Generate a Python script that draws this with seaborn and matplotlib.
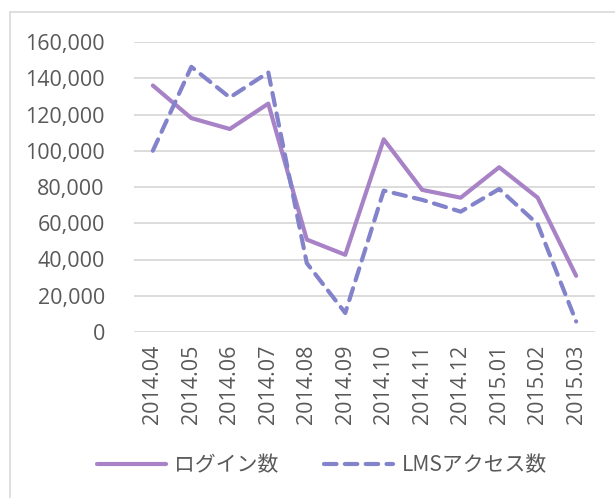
import matplotlib
matplotlib.use("Agg")
import matplotlib.pyplot as plt
import seaborn as sns
import pandas as pd
from matplotlib.patches import Rectangle
from matplotlib.lines import Line2D
from matplotlib.ticker import FuncFormatter

months = ["2014.04", "2014.05", "2014.06", "2014.07", "2014.08", "2014.09",
          "2014.10", "2014.11", "2014.12", "2015.01", "2015.02", "2015.03"]
login = [136000, 118000, 112000, 126000, 51000, 42600, 106300, 78400, 74100, 90900, 74100, 31000]
lms = [100000, 146300, 129400, 143200, 38000, 10500, 78000, 72900, 66400, 78900, 59500, 5800]
series_names = ["ログイン数", "LMSアクセス数"]

df = pd.DataFrame({
    "month": months * 2,
    "x": list(range(len(months))) * 2,
    "value": login + lms,
    "series": [series_names[0]] * len(months) + [series_names[1]] * len(months),
})

sns.set_theme(style="white")
plt.rcParams['font.family'] = ['Open Sans', 'Noto Sans CJK JP', 'DejaVu Sans']

colors = {series_names[0]: "#A882C6", series_names[1]: "#8383CC"}
fig = plt.figure(figsize=(6.15, 4.98), dpi=100)
ax = fig.add_axes([134 / 615, 1 - 332 / 498, (595 - 134) / 615, (332 - 42) / 498])

sns.lineplot(data=df, x="x", y="value", hue="series", palette=colors, ax=ax,
             legend=False, linewidth=3.0, sort=False)
lines = ax.get_lines()
lines[0].set_solid_capstyle("round")
lines[1].set_linestyle((0, (3, 2)))
lines[1].set_dash_capstyle("round")

ax.set_xlim(-0.49, 11.49)
ax.set_ylim(0, 160000)
ax.set_yticks(range(0, 160001, 20000))
ax.yaxis.set_major_formatter(FuncFormatter(lambda v, p: f"{int(v):,}"))
ax.set_xticks(range(len(months)))
ax.set_xticklabels(months, rotation=90)
ax.grid(axis="y", color="#D9D9D9", linewidth=1.3)
ax.set_axisbelow(True)
for s in ["top", "right", "left", "bottom"]:
    ax.spines[s].set_visible(False)
ax.tick_params(axis="both", length=0, labelsize=15.5, colors="#595959")
ax.tick_params(axis="y", pad=21)
ax.tick_params(axis="x", pad=9)
ax.set_xlabel("")
ax.set_ylabel("")

# frame around chart
fig.patches.append(Rectangle((10 / 615, -0.1), 1.2, 1 - 12 / 498 + 0.1,
                             transform=fig.transFigure, fill=False,
                             edgecolor="#D9D9D9", linewidth=1.2))

handles = [Line2D([], [], color=colors[series_names[0]], linewidth=3.0, solid_capstyle="round"),
           Line2D([], [], color=colors[series_names[1]], linewidth=3.0,
                  linestyle=(0, (3, 2)), dash_capstyle="round")]
leg = fig.legend(handles, series_names, loc="center", bbox_to_anchor=(322 / 615, 1 - 465 / 498),
                 ncol=2, frameon=False, handlelength=3.3, columnspacing=2.2, handletextpad=0.4,
                 prop={"family": ["Noto Sans CJK JP", "DejaVu Sans"], "size": 15})
for t in leg.get_texts():
    t.set_color("#595959")

fig.savefig("out.png", dpi=100)
